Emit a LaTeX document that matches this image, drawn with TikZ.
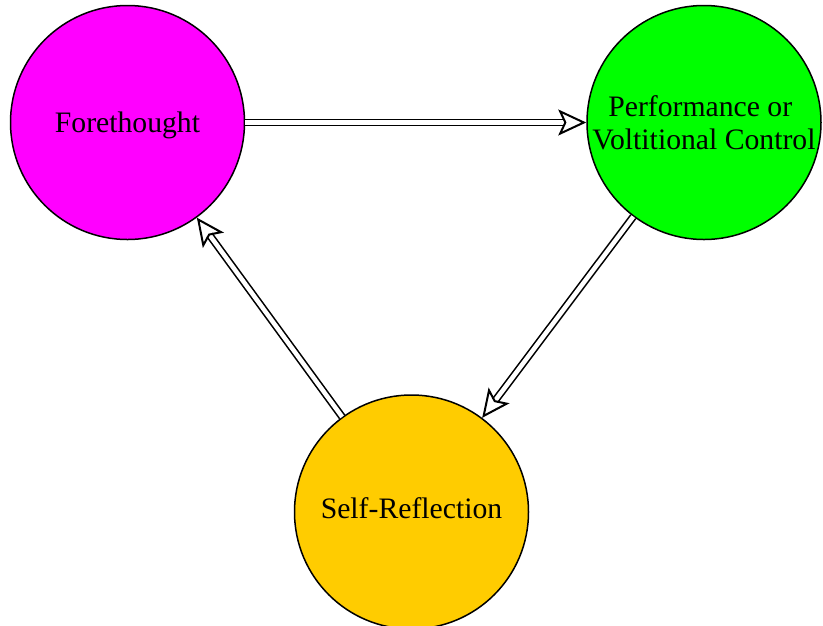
\documentclass[tikz,border=0pt]{standalone}
\usepackage{fontspec}
\setmainfont{Liberation Serif}
\usetikzlibrary{arrows.meta}
\definecolor{phasemagenta}{RGB}{255,0,255}
\definecolor{phasegreen}{RGB}{0,255,0}
\definecolor{phaseyellow}{RGB}{255,204,0}

\tikzset{
  phase/.style={circle, draw=black, line width=1.5pt, minimum size=234pt, inner sep=0pt,
    font=\fontsize{29.7}{33}\selectfont, align=center},
  cycle/.style={double=white, double distance=4.5pt, line width=1.6pt,
    -{Stealth[open, length=28pt, width=26pt, inset=6pt, line width=2pt]}}
}

\begin{document}
\begin{tikzpicture}[x=1pt,y=-1pt]
\useasboundingbox (0,0) rectangle (823,625);
\node[phase, fill=phasemagenta, text depth=0pt] (fore) at (127.5,122.5) {Forethought};
\node[phase, fill=phasegreen] (perf) at (704,122.5) {Performance or\kern0.25em\\Voltitional Control};
\node[phase, fill=phaseyellow, text depth=8.5pt] (refl) at (411.5,512) {Self-Reflection};
\draw[cycle] (fore) -- (perf);
\draw[cycle] (perf) -- (refl);
\draw[cycle] (refl) -- (fore);
\end{tikzpicture}
\end{document}
